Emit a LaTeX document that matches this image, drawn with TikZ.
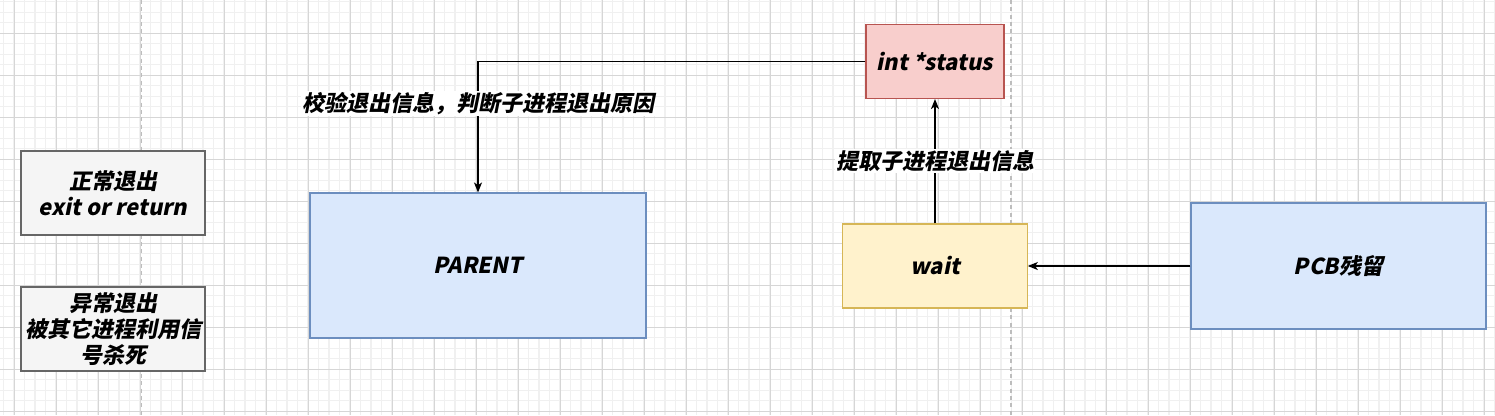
\documentclass[tikz,border=0pt]{standalone}
\usepackage{fontspec}
\setmainfont{Noto Sans CJK SC}[FakeSlant=0.2]
\usetikzlibrary{arrows.meta}

\definecolor{gridminor}{HTML}{F0F0F0}
\definecolor{gridmajor}{HTML}{D6D6D6}
\definecolor{dashgray}{HTML}{BDBDBD}
\definecolor{greyfill}{HTML}{F5F5F5}
\definecolor{greyline}{HTML}{666666}
\definecolor{bluefill}{HTML}{DAE8FC}
\definecolor{blueline}{HTML}{6C8EBF}
\definecolor{redfill}{HTML}{F8CECC}
\definecolor{redline}{HTML}{B85450}
\definecolor{yellowfill}{HTML}{FFF2CC}
\definecolor{yellowline}{HTML}{D6B656}

\tikzset{
  box/.style={rectangle, draw, line width=0.8pt, align=center,
    font=\fontsize{16.5pt}{19.5pt}\selectfont\bfseries, inner sep=0pt},
  greybox/.style={box, fill=greyfill, draw=greyline,
    minimum width=138pt, minimum height=63pt},
  bluebox/.style={box, fill=bluefill, draw=blueline},
  redbox/.style={box, fill=redfill, draw=redline},
  yellowbox/.style={box, fill=yellowfill, draw=yellowline},
  arr/.style={draw=black, line width=0.9pt,
    -{Stealth[length=7.5pt, width=6pt, inset=2pt]}},
  lbl/.style={fill=white, inner sep=1pt,
    font=\fontsize{16.5pt}{19.5pt}\selectfont\bfseries},
  divider/.style={draw=dashgray, line width=0.9pt, dash pattern=on 3pt off 2.5pt}
}

\begin{document}
\begin{tikzpicture}[x=0.75pt, y=-0.75pt]
  \useasboundingbox (0,0) rectangle (1495,415);
  \fill[white] (0,0) rectangle (1495,415);

  % background grid
  \foreach \i in {0,...,142}
    \draw[gridminor, line width=0.9pt] ({3.5+10.5*\i},0) -- ++(0,415);
  \foreach \j in {0,...,39}
    \draw[gridminor, line width=0.9pt] (0,{1.8+10.5*\j}) -- ++(1495,0);
  \foreach \i in {0,...,35}
    \draw[gridmajor, line width=0.75pt] ({14+42*\i},0) -- ++(0,415);
  \foreach \j in {0,...,9}
    \draw[gridmajor, line width=0.75pt] (0,{33.3+42*\j}) -- ++(1495,0);

  % dashed dividers
  \draw[divider] (141.5,0) -- (141.5,415);
  \draw[divider] (1011,0) -- (1011,415);

  % exit cases
  \node[greybox] (normal) at (113,193) {正常退出\\exit or return};
  \node[greybox] (abnormal) at (113,329) {异常退出\\被其它进程利用信\\号杀死};

  % processes
  \node[bluebox, minimum width=252pt, minimum height=108.75pt] (parent) at (478,265.5) {PARENT};
  \node[redbox, minimum width=103.5pt, minimum height=55.5pt] (status) at (935,61.5) {int *status};
  \node[yellowbox, minimum width=138.4pt, minimum height=63pt] (wait) at (935,266) {wait};
  \node[bluebox, minimum width=221.25pt, minimum height=94.5pt] (pcb) at (1338.5,266) {PCB残留};

  % connectors
  \draw[arr] (status.west) -| node[lbl, pos=0.66] {校验退出信息，判断子进程退出原因} (parent.north);
  \draw[arr] (wait.north) -- node[lbl] {提取子进程退出信息} (status.south);
  \draw[arr] (pcb.west) -- (wait.east);
\end{tikzpicture}
\end{document}
